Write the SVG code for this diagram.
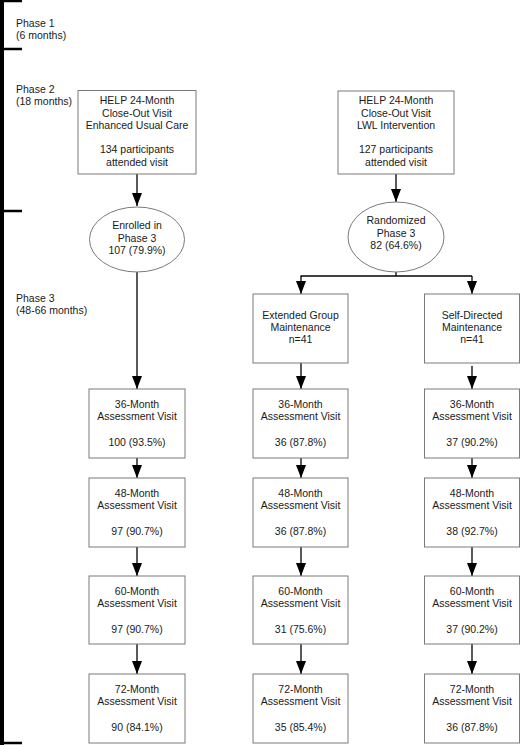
<svg xmlns="http://www.w3.org/2000/svg" width="520" height="745" viewBox="0 0 520 745">
<defs>
<style>
.t{font-family:"Liberation Sans",Arial,sans-serif;font-size:10.5px;fill:#1a1a1a;text-anchor:middle}
.l{font-family:"Liberation Sans",Arial,sans-serif;font-size:10.5px;fill:#1a1a1a}
.b{fill:#fff;stroke:#7a7a7a;stroke-width:1}
.c{stroke:#000;stroke-width:1.3;fill:none}
.br{stroke:#000;fill:none}
</style>
<marker id="ah" viewBox="0 0 13 10" refX="13" refY="5" markerWidth="13" markerHeight="10" markerUnits="userSpaceOnUse" orient="auto">
<path d="M0,0 L13,5 L0,10 z" fill="#000"/>
</marker>
</defs>
<rect width="520" height="745" fill="#fff"/>
<g id="bracket">
<line class="br" x1="2" y1="0" x2="2" y2="745" stroke-width="4"/>
<line class="br" x1="0" y1="1" x2="22" y2="1" stroke-width="2.5"/>
<line class="br" x1="0" y1="49" x2="22" y2="49" stroke-width="2.5"/>
<line class="br" x1="0" y1="211" x2="22" y2="211" stroke-width="2.5"/>
<line class="br" x1="0" y1="743" x2="22" y2="743" stroke-width="2.5"/>
</g>
<g id="phase-labels">
<text class="l" x="16" y="27">Phase 1</text>
<text class="l" x="16" y="39">(6 months)</text>
<text class="l" x="16" y="93">Phase 2</text>
<text class="l" x="16" y="105">(18 months)</text>
<text class="l" x="16" y="302">Phase 3</text>
<text class="l" x="16" y="314">(48-66 months)</text>
</g>
<g id="connectors">
<line class="c" x1="137" y1="174" x2="137" y2="206" marker-end="url(#ah)"/>
<line class="c" x1="137" y1="272" x2="137" y2="389" marker-end="url(#ah)"/>
<line class="c" x1="137" y1="458" x2="137" y2="478" marker-end="url(#ah)"/>
<line class="c" x1="137" y1="547" x2="137" y2="576" marker-end="url(#ah)"/>
<line class="c" x1="137" y1="644" x2="137" y2="674" marker-end="url(#ah)"/>
<line class="c" x1="396" y1="174" x2="396" y2="202" marker-end="url(#ah)"/>
<line class="c" x1="396" y1="272" x2="396" y2="276"/>
<line class="c" x1="300.5" y1="276" x2="472" y2="276"/>
<line class="c" x1="301" y1="276" x2="301" y2="294" marker-end="url(#ah)"/>
<line class="c" x1="472" y1="276" x2="472" y2="294" marker-end="url(#ah)"/>
<line class="c" x1="301" y1="363" x2="301" y2="389" marker-end="url(#ah)"/>
<line class="c" x1="301" y1="458" x2="301" y2="478" marker-end="url(#ah)"/>
<line class="c" x1="301" y1="547" x2="301" y2="576" marker-end="url(#ah)"/>
<line class="c" x1="301" y1="644" x2="301" y2="674" marker-end="url(#ah)"/>
<line class="c" x1="472" y1="366" x2="472" y2="389" marker-end="url(#ah)"/>
<line class="c" x1="472" y1="458" x2="472" y2="478" marker-end="url(#ah)"/>
<line class="c" x1="472" y1="547" x2="472" y2="576" marker-end="url(#ah)"/>
<line class="c" x1="472" y1="644" x2="472" y2="674" marker-end="url(#ah)"/>
</g>
<g id="help-euc">
<rect class="b" x="78" y="90.5" width="118" height="83.5"/>
<text class="t" x="137" y="104">HELP 24-Month</text>
<text class="t" x="137" y="117">Close-Out Visit</text>
<text class="t" x="137" y="129">Enhanced Usual Care</text>
<text class="t" x="137" y="153">134 participants</text>
<text class="t" x="137" y="166">attended visit</text>
</g>
<g id="help-lwl">
<rect class="b" x="338" y="91" width="116" height="83"/>
<text class="t" x="396" y="104">HELP 24-Month</text>
<text class="t" x="396" y="117">Close-Out Visit</text>
<text class="t" x="396" y="129">LWL Intervention</text>
<text class="t" x="396" y="153">127 participants</text>
<text class="t" x="396" y="166">attended visit</text>
</g>
<g id="enrolled">
<ellipse class="b" cx="137" cy="239.5" rx="47.5" ry="32.5"/>
<text class="t" x="137" y="229">Enrolled in</text>
<text class="t" x="137" y="242">Phase 3</text>
<text class="t" x="137" y="254">107 (79.9%)</text>
</g>
<g id="randomized">
<ellipse class="b" cx="396" cy="237" rx="48" ry="35"/>
<text class="t" x="396" y="224">Randomized</text>
<text class="t" x="396" y="237">Phase 3</text>
<text class="t" x="396" y="249">82 (64.6%)</text>
</g>
<g id="extended">
<rect class="b" x="253" y="294" width="95" height="69"/>
<text class="t" x="300.5" y="319">Extended Group</text>
<text class="t" x="300.5" y="331">Maintenance</text>
<text class="t" x="300.5" y="343">n=41</text>
</g>
<g id="selfdirected">
<rect class="b" x="424.5" y="294" width="95" height="69"/>
<text class="t" x="472" y="319">Self-Directed</text>
<text class="t" x="472" y="331">Maintenance</text>
<text class="t" x="472" y="343">n=41</text>
</g>
<g id="euc-36">
<rect class="b" x="89" y="389" width="96" height="69"/>
<text class="t" x="137" y="407.5">36-Month</text>
<text class="t" x="137" y="420">Assessment Visit</text>
<text class="t" x="137" y="446">100 (93.5%)</text>
</g>
<g id="euc-48">
<rect class="b" x="89" y="478" width="96" height="69"/>
<text class="t" x="137" y="496.5">48-Month</text>
<text class="t" x="137" y="509">Assessment Visit</text>
<text class="t" x="137" y="535">97 (90.7%)</text>
</g>
<g id="euc-60">
<rect class="b" x="89" y="576" width="96" height="68"/>
<text class="t" x="137" y="594.5">60-Month</text>
<text class="t" x="137" y="607">Assessment Visit</text>
<text class="t" x="137" y="633">97 (90.7%)</text>
</g>
<g id="euc-72">
<rect class="b" x="89" y="674" width="96" height="69"/>
<text class="t" x="137" y="692.5">72-Month</text>
<text class="t" x="137" y="705">Assessment Visit</text>
<text class="t" x="137" y="731">90 (84.1%)</text>
</g>
<g id="egm-36">
<rect class="b" x="253" y="389" width="95" height="69"/>
<text class="t" x="300.5" y="407.5">36-Month</text>
<text class="t" x="300.5" y="420">Assessment Visit</text>
<text class="t" x="300.5" y="446">36 (87.8%)</text>
</g>
<g id="egm-48">
<rect class="b" x="253" y="478" width="95" height="69"/>
<text class="t" x="300.5" y="496.5">48-Month</text>
<text class="t" x="300.5" y="509">Assessment Visit</text>
<text class="t" x="300.5" y="535">36 (87.8%)</text>
</g>
<g id="egm-60">
<rect class="b" x="253" y="576" width="95" height="68"/>
<text class="t" x="300.5" y="594.5">60-Month</text>
<text class="t" x="300.5" y="607">Assessment Visit</text>
<text class="t" x="300.5" y="633">31 (75.6%)</text>
</g>
<g id="egm-72">
<rect class="b" x="253" y="674" width="95" height="69"/>
<text class="t" x="300.5" y="692.5">72-Month</text>
<text class="t" x="300.5" y="705">Assessment Visit</text>
<text class="t" x="300.5" y="731">35 (85.4%)</text>
</g>
<g id="sdm-36">
<rect class="b" x="424.5" y="389" width="95" height="69"/>
<text class="t" x="472" y="407.5">36-Month</text>
<text class="t" x="472" y="420">Assessment Visit</text>
<text class="t" x="472" y="446">37 (90.2%)</text>
</g>
<g id="sdm-48">
<rect class="b" x="424.5" y="478" width="95" height="69"/>
<text class="t" x="472" y="496.5">48-Month</text>
<text class="t" x="472" y="509">Assessment Visit</text>
<text class="t" x="472" y="535">38 (92.7%)</text>
</g>
<g id="sdm-60">
<rect class="b" x="424.5" y="576" width="95" height="68"/>
<text class="t" x="472" y="594.5">60-Month</text>
<text class="t" x="472" y="607">Assessment Visit</text>
<text class="t" x="472" y="633">37 (90.2%)</text>
</g>
<g id="sdm-72">
<rect class="b" x="424.5" y="674" width="95" height="69"/>
<text class="t" x="472" y="692.5">72-Month</text>
<text class="t" x="472" y="705">Assessment Visit</text>
<text class="t" x="472" y="731">36 (87.8%)</text>
</g>
</svg>
